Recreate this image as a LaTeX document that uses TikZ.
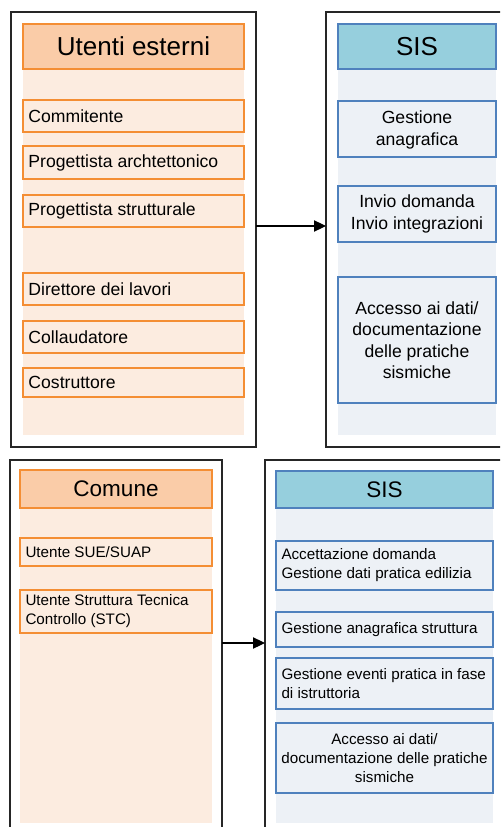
\documentclass[tikz,border=0pt]{standalone}
\usepackage{fontspec}
\setmainfont{Liberation Sans}
\usetikzlibrary{arrows.meta}

\definecolor{orline}{RGB}{244,142,52}
\definecolor{orhead}{RGB}{250,204,168}
\definecolor{orpanel}{RGB}{252,236,224}
\definecolor{blline}{RGB}{79,129,189}
\definecolor{blhead}{RGB}{150,207,221}
\definecolor{blpanel}{RGB}{237,241,246}

\newcommand{\bighead}{\fontsize{19.5}{23}\selectfont}
\newcommand{\smallhead}{\fontsize{16.9}{20}\selectfont}
\newcommand{\bigtxt}{\fontsize{13.2}{16.1}\selectfont}
\newcommand{\smalltxt}{\fontsize{11.4}{14.3}\selectfont}

\tikzset{every picture/.style={line width=0.75pt},
  frame/.style={draw=black!85,line width=1pt},
  orpan/.style={fill=orpanel},
  blpan/.style={fill=blpanel},
  orhd/.style={draw=orline,fill=orhead,line width=1.4pt},
  orbox/.style={draw=orline,fill=orpanel,line width=1.4pt},
  blhd/.style={draw=blline,fill=blhead,line width=1.4pt},
  blbox/.style={draw=blline,fill=blpanel,line width=1.4pt},
  txt/.style={inner sep=0pt,text=black},
  bigt/.style={txt,font=\bigtxt},
  smallt/.style={txt,font=\smalltxt},
  conn/.style={-{Triangle[length=9pt,width=8.5pt]},line width=0.8pt}}

\begin{document}
\begin{tikzpicture}[x=0.75pt,y=0.75pt,yscale=-1,xscale=1]
\clip (0,0) rectangle (500,827);

%Shape: Rectangle (top left frame)
\draw[frame] (11,12) rectangle (256,447) ;
\fill[orpan] (23,23) rectangle (244,435) ;
\draw[orhd] (23,24) rectangle (244,69) ;
\draw[orbox] (23,100) rectangle (244,132) ;
\draw[orbox] (23,146) rectangle (244,179) ;
\draw[orbox] (23,195) rectangle (244,227) ;
\draw[orbox] (23,273) rectangle (244,305) ;
\draw[orbox] (23,321) rectangle (244,353) ;
\draw[orbox] (23,368) rectangle (244,397) ;

%Shape: Rectangle (top right frame)
\draw[frame] (326,12) rectangle (512,447) ;
\fill[blpan] (338,23) rectangle (496,435) ;
\draw[blhd] (338,24) rectangle (496,69) ;
\draw[blbox] (338,101) rectangle (496,157) ;
\draw[blbox] (338,186) rectangle (496,242) ;
\draw[blbox] (338,277) rectangle (496,403) ;

%Shape: Rectangle (bottom left frame)
\draw[frame] (10,460) rectangle (222,840) ;
\fill[orpan] (20,470) rectangle (212,823) ;
\draw[orhd] (20,470) rectangle (212,508) ;
\draw[orbox] (20,538) rectangle (212,566) ;
\draw[orbox] (20,590) rectangle (212,633) ;

%Shape: Rectangle (bottom right frame)
\draw[frame] (265,460) rectangle (512,840) ;
\fill[blpan] (276,471) rectangle (493,823) ;
\draw[blhd] (276,471) rectangle (493,508) ;
\draw[blbox] (276,541) rectangle (493,590) ;
\draw[blbox] (276,612) rectangle (493,647) ;
\draw[blbox] (276,658) rectangle (493,709) ;
\draw[blbox] (276,723) rectangle (493,793) ;

% Text Node
\draw (133.5,46.5) node[txt,font=\bighead] (utext) {Utenti esterni};
% Text Node
\draw (28,116) node[bigt,anchor=west] (commit) {Commitente};
% Text Node
\draw (28,162.5) node[bigt,anchor=west] (progarch) {Progettista archtettonico};
% Text Node
\draw (28,211) node[bigt,anchor=west] (progstr) {Progettista strutturale};
% Text Node
\draw (28,289) node[bigt,anchor=west] (dirlav) {Direttore dei lavori};
% Text Node
\draw (28,337) node[bigt,anchor=west] (collaud) {Collaudatore};
% Text Node
\draw (28,382.5) node[bigt,anchor=west] (costr) {Costruttore};

% Text Node
\draw (417,46.5) node[txt,font=\bighead] (sistop) {SIS};
% Text Node
\draw (417,130) node[bigt,align=center] (gestana) {Gestione\\anagrafica};
% Text Node
\draw (417,214) node[bigt,align=center] (invio) {Invio domanda\\Invio integrazioni};
% Text Node
\draw (417,340) node[bigt,align=center] (accesstop) {Accesso ai dati/\\documentazione\\delle pratiche\\sismiche};

% Text Node
\draw (116,489) node[txt,font=\smallhead] (comune) {Comune};
% Text Node
\draw (25,552) node[smallt,anchor=west] (suesuap) {Utente SUE/SUAP};
% Text Node
\draw (25,611.5) node[smallt,anchor=west,align=left] (stc) {Utente Struttura Tecnica\\Controllo (STC)};

% Text Node
\draw (384.5,489.5) node[txt,font=\smallhead] (sisbot) {SIS};
% Text Node
\draw (281,565.5) node[smallt,anchor=west,align=left] (accett) {Accettazione domanda\\Gestione dati pratica edilizia};
% Text Node
\draw (281,629.5) node[smallt,anchor=west] (gestanastr) {Gestione anagrafica struttura};
% Text Node
\draw (281,683.5) node[smallt,anchor=west,align=left] (eventi) {Gestione eventi pratica in fase\\di istruttoria};
% Text Node
\draw (384.5,758) node[smallt,align=center] (accessbot) {Accesso ai dati/\\documentazione delle pratiche\\sismiche};

%Straight Lines (connectors)
\coordinate (extout) at (256,226) ;
\coordinate (sisin) at (326,226) ;
\draw[conn] (extout) -- (sisin) ;
\coordinate (comout) at (222,643) ;
\coordinate (sisbin) at (265,643) ;
\draw[conn] (comout) -- (sisbin) ;

\end{tikzpicture}
\end{document}
